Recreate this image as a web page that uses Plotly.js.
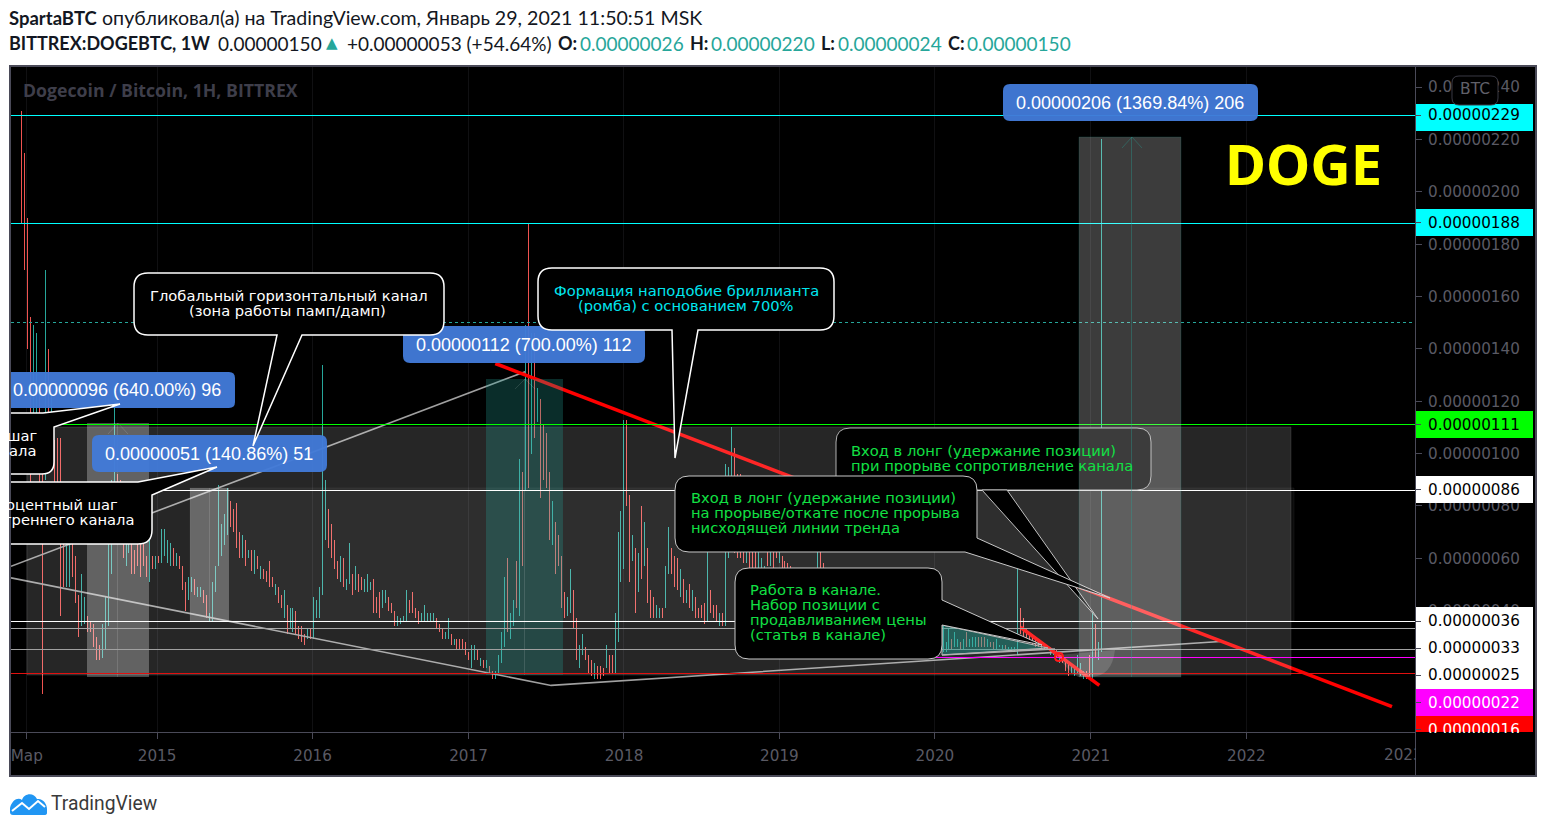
<!DOCTYPE html>
<html><head><meta charset="utf-8">
<script src="https://cdn.plot.ly/plotly-3.0.1.min.js"></script>
<style>html,body{margin:0;padding:0;background:#fff;overflow:hidden}</style>
</head><body><div id="chart" style="width:1546px;height:831px"></div>
<script>
// weekly bars of BITTREX:DOGEBTC, in satoshi
const firstWeek = '2014-02-17';
const barHigh = [
231,215,190,152,149,146,125,110,170,140, 125,105,106,106,80,78,75,70,61,46,
54,45,38,36,35,30,27,35,45,70, 90,118,92,90,88,88,80,80,63,78,
75,66,61,75,61,61,61,71,71,67, 66,64,62,61,57,51,53,53,52,49,
49,48,46,39,51,57,88,73,77,87, 82,79,81,70,69,67,63,63,63,61,
57,56,55,59,53,50,49,46,48,42, 41,41,40,34,34,31,33,33,45,44,
49,134,90,79,73,67,59,61,60,52, 66,54,57,54,53,52,54,51,52,45,
47,48,48,45,43,40,38,37,38,48, 44,47,41,40,39,42,39,39,39,37,
35,33,32,37,31,29,29,29,29,28, 24,27,27,25,22,21,21,19,17,17,
23,32,53,60,39,44,59,98,93,149, 188,146,146,125,121,111,108,93,82,74,
69,61,47,45,56,48,37,27,31,26, 23,21,20,19,19,18,27,23,23,39,
70,78,113,113,84,69,64,62,80,74, 64,48,45,42,41,41,57,72,64,61,
60,56,52,48,50,48,45,41,42,43, 63,48,42,42,39,39,96,95,110,102,
92,92,85,80,75,75,70,66,60,57, 70,72,70,66,68,61,59,58,57,52,
50,48,46,44,48,52,50,72,72,58, 52,50,46,46,44,42,40,44,42,38,
36,34,36,34,32,36,38,36,34,32, 30,32,30,34,32,30,32,30,34,32,
30,28,30,32,30,34,32,30,28,34, 28,33,29,32,29,28,29,32,29,30,
30,30,30,30,29,28,28,29,27,27, 27,26,26,26,56,41,37,33,32,31,
30,29,27,27,26,26,25,25,23,23, 21,20,19,18,23,20,17,17,23,40,
35,28,220];
const barLow = [
188,170,140,88,100,105,88,8,90,95, 95,85,85,38,49,49,49,53,43,30,
34,35,32,32,26,21,21,22,25,34, 54,78,80,78,60,57,62,54,54,57,
53,57,53,51,56,56,58,58,61,58, 57,57,57,56,48,40,44,47,46,45,
45,43,37,36,36,47,57,61,65,69, 72,70,64,60,60,57,60,55,54,56,
52,52,51,49,49,46,43,41,37,31, 33,32,31,29,28,27,29,29,29,37,
37,46,67,64,60,56,52,51,49,48, 50,46,48,47,48,47,47,48,39,39,
37,41,43,40,39,34,34,35,36,36, 39,39,37,35,36,36,36,36,36,33,
32,29,29,29,27,27,25,25,25,23, 21,18,21,21,19,18,18,16,14,14,
16,20,26,32,29,34,41,38,57,86, 87,100,106,112,83,90,87,67,65,54,
57,41,37,38,39,33,21,18,23,21, 16,15,14,14,14,15,18,16,16,16,
28,51,56,80,51,59,39,47,52,57, 43,37,37,37,37,37,41,54,54,49,
48,45,43,43,41,40,37,37,37,35, 36,39,37,36,34,34,34,60,65,62,
60,60,58,58,56,56,56,56,56,54, 57,57,56,60,58,56,56,56,54,47,
44,42,40,38,40,44,42,50,50,44, 44,42,40,38,36,34,34,34,32,30,
30,28,28,26,26,28,30,28,26,24, 24,24,24,26,26,24,24,24,26,24,
24,24,24,24,24,26,24,24,24,24, 24,25,25,26,26,25,25,26,26,26,
26,26,26,26,26,26,25,25,26,25, 25,24,24,24,23,31,30,28,28,27,
26,26,25,25,25,23,23,22,20,20, 17,15,16,15,16,15,14,14,14,14,
22,21,24];
const barUp = [
0,0,0,0,1,1,0,0,1,0, 1,0,0,0,0,1,1,0,0,0,
1,1,0,0,0,0,0,1,1,1, 1,1,0,0,0,1,1,0,0,0,
0,0,0,1,0,1,0,1,1,1, 1,0,1,0,0,0,1,1,0,1,
1,0,0,1,1,1,1,1,1,1, 0,0,0,0,1,0,1,0,1,0,
1,0,0,0,0,1,0,0,1,0, 1,1,0,0,0,0,1,0,1,1,
1,1,1,0,0,0,0,1,0,1, 1,0,1,0,0,1,1,1,0,0,
0,1,1,0,0,0,1,1,1,1, 0,0,0,0,1,1,1,1,1,0,
0,0,1,1,0,1,0,0,0,0, 0,1,1,0,1,0,1,0,0,1,
1,1,1,0,1,1,0,1,0,1, 0,1,0,1,0,0,0,0,1,0,
0,0,0,1,1,0,0,1,1,0, 0,0,1,0,0,0,1,0,0,1,
1,1,1,0,0,1,0,1,0,1, 0,0,0,1,1,0,1,1,0,0,
0,1,0,1,0,1,0,0,0,0, 1,0,0,0,1,0,1,1,1,0,
0,0,0,1,0,0,0,1,1,1, 0,1,0,0,1,0,0,0,0,1,
0,0,0,1,1,1,0,1,0,0, 0,0,1,0,0,1,0,1,0,0,
0,0,1,0,0,1,1,0,0,0, 1,1,0,1,0,0,1,0,1,0,
1,0,1,1,0,1,0,0,1,1, 1,1,0,1,1,0,1,0,1,1,
1,0,0,0,1,0,0,1,1,1, 0,1,1,1,1,0,0,0,0,0,
0,0,0,0,0,1,1,0,1,0, 0,0,1,1,1,1,1,0,0,1,
0,1,1];

// drawn levels (satoshi)
const levelValues = [229,188,150,111,86,36,33,25,22,16];
const levelColors = ['#00ffff','#00ffff','#26a69a','#00ff00','#ffffff','#ffffff','#a8a8a8','#a0a0a0','#ff00ff','#e01010'];
const levelDash   = ['solid','solid','dot','solid','solid','solid','solid','solid','solid','solid'];

// drawn trend lines
const trendLowerX = ['2014-01-23','2017-07-14','2021-11-01'];
const trendLowerY = [52.5,11.4,28.2];
const trendUpperX = ['2014-01-23','2017-05-14'];
const trendUpperY = [56.9,131.3];
const trendRedX = ['2017-03-05','2022-12-09'];
const trendRedY = [134.4,3.3];
const trendRed2X = ['2020-07-20','2021-01-21'];
const trendRed2Y = [33.6,11.4];

// axis labels
const yTicks = [240,220,200,180,160,140,120,100,80,60,40];
const xTickDates = ['2014-03-01','2015-01-01','2016-01-01','2017-01-01','2018-01-01','2019-01-01','2020-01-01','2021-01-01','2022-01-01'];
const xTickText = ['Мар','2015','2016','2017','2018','2019','2020','2021','2022'];
const sat = v => '0.00000' + String(v).padStart(3,'0');

const L=11,T=67,W=1404,H=665;
const px = x => (x-L)/W, py = y => (T+H-y)/H;
// converts a path written in page pixels to paper fractions
function P(s){let i=0;return s.replace(/-?\d+(\.\d+)?/g,m=>{const v=parseFloat(m);return (i++%2===0?px(v):py(v)).toFixed(5);});}
const shapes=[], ann=[];
const path=(s,fill,lc,lw)=>shapes.push({type:'path',xref:'paper',yref:'paper',path:P(s),fillcolor:fill||'rgba(0,0,0,0)',line:{color:lc||'rgba(0,0,0,0)',width:lw===undefined?0:lw},layer:'above'});
const rect=(a,b,c,d,fill,lc,lw)=>path(`M ${a} ${b} L ${c} ${b} L ${c} ${d} L ${a} ${d} Z`,fill,lc,lw);
const rr=(a,b,c,d,r)=>`M ${a+r} ${b} L ${c-r} ${b} Q ${c} ${b} ${c} ${b+r} L ${c} ${d-r} Q ${c} ${d} ${c-r} ${d} L ${a+r} ${d} Q ${a} ${d} ${a} ${d-r} L ${a} ${b+r} Q ${a} ${b} ${a+r} ${b} Z`;
const txt=(t,x,y,opt={})=>ann.push(Object.assign({text:t,x:px(x),y:py(y),xref:'paper',yref:'paper',showarrow:false,xanchor:opt.a||'center',yanchor:opt.v||'middle',font:{family:opt.f||'DejaVu Sans',size:opt.s||14.7,color:opt.c||'#fff'},align:opt.a||'center',borderpad:0},opt.extra||{}));

// outer frame of the chart, axis bands
shapes.push({type:'path',xref:'paper',yref:'paper',layer:'below',path:P('M 10 66 L 1536 66 L 1536 776 L 10 776 Z'),fillcolor:'#000',line:{color:'#4a4a58',width:2}});
shapes.push({type:'path',xref:'paper',yref:'paper',layer:'below',path:P('M 1415 732 L 1415 776'),line:{color:'#4a4a58',width:1}});

// zones
rect(27,427,1291,675,'rgba(255,255,255,0.148)','rgba(255,255,255,0.12)',1);
rect(190,488,1294,621,'rgba(255,255,255,0.04)','rgba(255,255,255,0.06)',1);
rect(87,423,149,677,'rgba(255,255,255,0.28)');
rect(190,488,229,621,'rgba(255,255,255,0.28)');
rect(486,379,563,675,'rgba(38,166,154,0.27)');
[[118,423,677],[209.5,488,621],[524.5,379,675]].forEach(v=>path(`M ${v[0]} ${v[1]} L ${v[0]} ${v[2]}`,null,'rgba(255,255,255,0.13)',1));
path('M 108 434 L 118 423 L 128 434',null,'rgba(255,255,255,0.13)',1);
path('M 515 389 L 525 379 L 535 389',null,'rgba(255,255,255,0.13)',1);

// levels
levelValues.forEach((v,i)=>shapes.push({type:'line',xref:'paper',yref:'y',x0:v===22?px(800):0,x1:1,y0:v,y1:v,layer:'above',line:{color:levelColors[i],width:1,dash:levelDash[i]}}));

// wedge under the channel
path('M 942 625 L 1048 648 L 942 655 Z','rgba(38,166,154,0.45)','#b8b8b8',1);
path('M 942 655 L 1055 649',null,'#b0b0b0',1.4);
path('M 1058 655 L 1115 650 Q 1112 677 1090 677 L 1078 677 Q 1066 670 1058 655 Z','rgba(255,255,255,0.14)');
path('M 1055 657 Q 1055 653 1059 653 Q 1063 653 1063 657 Q 1063 661 1059 661 Q 1055 661 1055 657 Z',null,'#ff1a1a',2);

// blue measure labels
const blue=s=>path(s,'rgba(66,122,215,0.96)');
blue('M 11 372 L 229 372 Q 235 372 235 378 L 235 402 Q 235 408 229 408 L 11 408 Z');
blue(rr(92,435,327,472,7));blue(rr(403,326,645,363,7));blue(rr(1003,84,1258,121,7));
const ar={f:'Liberation Sans',s:18,c:'#fff'};
txt('0.00000096 (640.00%) 96',117,390,ar);
txt('0.00000051 (140.86%) 51',209,454,ar);
txt('0.00000112 (700.00%) 112',524,345,ar);
txt('0.00000206 (1369.84%) 206',1130,103,ar);

// callouts
path(rr(836,428,1151,490,14),'#000','#b0b0b0',1);
path('M 982 490 L 1098 619 L 1007 490 Z','#000','#c0c0c0',1);
path('M 689 476 L 963 476 Q 977 476 977 490 L 977 538 L 1110 598 L 965 552 L 689 552 Q 675 552 675 538 L 675 490 Q 675 476 689 476 Z','#000','#c8c8c8',1);
path('M 749 568 L 928 568 Q 942 568 942 582 L 942 600 L 1042 645 L 942 625 L 942 645 Q 942 659 928 659 L 749 659 Q 735 659 735 645 L 735 582 Q 735 568 749 568 Z','#000','#c8c8c8',1);
path('M 552 268 L 820 268 Q 834 268 834 282 L 834 316 Q 834 330 820 330 L 698 330 L 675 458 L 672 330 L 552 330 Q 538 330 538 316 L 538 282 Q 538 268 552 268 Z','#000','#fff',1.5);
path('M 148 273 L 430 273 Q 444 273 444 287 L 444 321 Q 444 335 430 335 L 302 335 L 253 446 L 277 335 L 148 335 Q 134 335 134 321 L 134 287 Q 134 273 148 273 Z','#000','#fff',1.5);
path('M 11 413 L 43 413 L 120 404 L 54 427 L 54 462 Q 54 474 42 474 L 11 474','#000','#fff',1.5);
path('M 11 482 L 138 482 L 217 467 L 152 495 L 152 530 Q 152 544 138 544 L 11 544','#000','#fff',1.5);

// tall grey zone sits over the callouts
rect(1079,137,1181,677,'rgba(255,255,255,0.235)','rgba(38,166,154,0.18)',1);
path('M 1132 137 L 1132 677',null,'rgba(38,166,154,0.35)',1);
path('M 1122 148 L 1132 137 L 1142 148',null,'rgba(38,166,154,0.35)',1);

// price tags
rect(1416,104,1533,131,'#00ffff');
rect(1416,209,1533,236,'#00ffff');
rect(1416,411,1533,438,'#00ff00');
rect(1416,476,1533,503,'#ffffff');
rect(1416,607,1533,689,'#ffffff');
rect(1416,689,1533,716,'#ff00ff');
rect(1416,716,1533,732,'#ff0000');
[115.5,222.5,424.5,489.5,621.5,648.5,675.5,702.5,729.5].forEach(y=>path(`M 1415 ${y} L 1421 ${y}`,null,'#4a4a58',1));
const tagF={f:'DejaVu Sans',s:15.2,a:'left'};
[[229,115.5],[188,222.5],[111,424.5],[86,489.5],[36,621],[33,648],[25,675]].forEach(t=>txt(sat(t[0]),1427.5,t[1],Object.assign({c:'#000'},tagF)));
txt(sat(22),1427.5,702.5,Object.assign({c:'#fff'},tagF));
txt(sat(16),1427.5,720,Object.assign({c:'#fff',v:'top',extra:{height:12,valign:'top'}},tagF));
path(rr(1452,76,1498,105,7),'#000','#3a3a44',1);
txt('BTC',1475,88.5,{s:15.5,c:'#60606a'});

// clipped 2023 label
txt('2023',1383,755,{a:'left',s:15.2,c:'#5a5a64',extra:{width:32,height:22}});

// texts of the callouts
txt('Глобальный горизонтальный канал',289,295,{c:'#fff'});
txt('(зона работы памп/дамп)',287,310,{c:'#fff'});
txt('шаг',38,435,{a:'right',c:'#fff'});
txt('ала',37,450,{a:'right',c:'#fff'});
txt('оцентный шаг',119,504,{a:'right',c:'#fff'});
txt('треннего канала',135,519,{a:'right',c:'#fff'});
const cy='#00e6f0', gr='#12e044';
txt('Формация наподобие бриллианта',686,290,{c:cy});
txt('(ромба) с основанием 700%',686,305,{c:cy});
txt('Вход в лонг (удержание позиции)',850.5,450,{a:'left',c:gr});
txt('при прорыве сопротивление канала',850.5,465,{a:'left',c:gr});
txt('Вход в лонг (удержание позиции)',689.5,497.5,{a:'left',c:gr});
txt('на прорыве/откате после прорыва',689.5,512.5,{a:'left',c:gr});
txt('нисходящей линии тренда',689.5,527.5,{a:'left',c:gr});
txt('Работа в канале.',749.5,589,{a:'left',c:gr});
txt('Набор позиции с',749.5,604,{a:'left',c:gr});
txt('продавливанием цены',749.5,619,{a:'left',c:gr});
txt('(статья в канале)',749.5,634,{a:'left',c:gr});

// watermark and big label
txt('<b>Dogecoin / Bitcoin, 1H, BITTREX</b>',22,90,{a:'left',f:'Open Sans',s:17.7,c:'#3e3e4a'});
txt('<b>DOGE</b>',1303,163,{f:'Noto Sans',s:56,c:'#ffff00'});

// header
const tl='#26a69a', hd={a:'left',f:'Lato',s:19,c:'#131722'}, hb=Object.assign({},hd,{s:18}), ht=Object.assign({},hd,{c:tl});
txt('<b>SpartaBTC</b>',8,18,Object.assign({},hd,{s:18.5}));
txt('опубликовал(а) на TradingView.com, Январь 29, 2021 11:50:51 MSK',101,18,Object.assign({},hd,{s:19.6}));
txt('<b>BITTREX:DOGEBTC, 1W</b>',8,43,hb);
txt('0.00000150',217,43,hd);
txt('▲',325,43,Object.assign({},ht,{s:15,f:'DejaVu Sans'}));
txt('+0.00000053 (+54.64%)',346,43,hd);
txt('<b>O:</b>',557,43,hb); txt('0.00000026',579,43,ht);
txt('<b>H:</b>',689,43,hb); txt('0.00000220',710,43,ht);
txt('<b>L:</b>',820,43,hb); txt('0.00000024',837,43,ht);
txt('<b>C:</b>',947,43,hb); txt('0.00000150',966,43,ht);

// TradingView logo
path('M 10 808 C 12 800 18 797 22 800 C 24 793 34 792 37 799 C 43 798 47 804 47 809 L 47 813 Q 47 815 44 815 L 13 815 Q 10 815 10 812 Z','#2196f3');
path('M 12 811 L 22 803 L 29 809 L 38 801 L 45 807',null,'#fff',2);
txt('TradingView',50,803,{a:'left',f:'Roboto',s:19.3,c:'#3a3a3a'});

const dates = barHigh.map((_,i)=>new Date(Date.parse(firstWeek+'T00:00:00Z')+i*7*864e5).toISOString().slice(0,10));
const traces=[
 {type:'ohlc',x:dates,open:barLow.map((v,i)=>barUp[i]?v:barHigh[i]),close:barHigh.map((v,i)=>barUp[i]?v:barLow[i]),high:barHigh,low:barLow,tickwidth:0,
  increasing:{line:{color:'#26a69a',width:1}},decreasing:{line:{color:'#ef5350',width:1}},hoverinfo:'skip',showlegend:false},
 {type:'scatter',mode:'lines',x:trendLowerX,y:trendLowerY,line:{color:'#a0a0a0',width:1.6},hoverinfo:'skip'},
 {type:'scatter',mode:'lines',x:trendUpperX,y:trendUpperY,line:{color:'#a0a0a0',width:1.6},hoverinfo:'skip'},
 {type:'scatter',mode:'lines',x:trendRedX,y:trendRedY,line:{color:'#ff0000',width:3.6},hoverinfo:'skip'},
 {type:'scatter',mode:'lines',x:trendRed2X,y:trendRed2Y,line:{color:'#ff0000',width:3.6},hoverinfo:'skip'}
];
const axF={family:'DejaVu Sans',size:15.2,color:'#5a5a64'};
Plotly.newPlot('chart',traces,{
 width:1546,height:831,autosize:false,showlegend:false,
 margin:{l:L,r:1546-L-W,t:T,b:831-T-H,pad:0},
 paper_bgcolor:'#ffffff',plot_bgcolor:'#000000',
 xaxis:{type:'date',range:['2014-01-23','2023-02-01'],rangeslider:{visible:false},tickmode:'array',tickvals:xTickDates,ticktext:xTickText,
   tickfont:axF,ticks:'outside',ticklen:6,tickcolor:'#4a4a58',showgrid:true,gridcolor:'#101012',gridwidth:1,zeroline:false,showline:true,linecolor:'#4a4a58',linewidth:1,ticklabelstandoff:4,tickangle:0},
 yaxis:{side:'right',range:[-6.4,247.7],tickmode:'array',tickvals:yTicks,ticktext:yTicks.map(sat),tickfont:axF,ticks:'outside',ticklen:6,tickcolor:'#4a4a58',
   showgrid:false,zeroline:false,showline:true,linecolor:'#4a4a58',linewidth:1,ticklabelstandoff:3},
 shapes:shapes,annotations:ann,hovermode:false,dragmode:false
},{displayModeBar:false,staticPlot:true}).then(gd=>{
 // crisp single-pixel rendering for the bars and straight level lines
 gd.querySelectorAll('.ohlc path').forEach(p=>p.style.shapeRendering='crispEdges');
 gd.querySelectorAll('.shapelayer path').forEach(p=>{
   const n=(p.getAttribute('d')||'').match(/-?\d+(\.\d+)?/g)||[];
   if(n.length===4&&(Math.abs(n[0]-n[2])<.01||Math.abs(n[1]-n[3])<.01))p.style.shapeRendering='crispEdges';
 });
});
</script></body></html>
